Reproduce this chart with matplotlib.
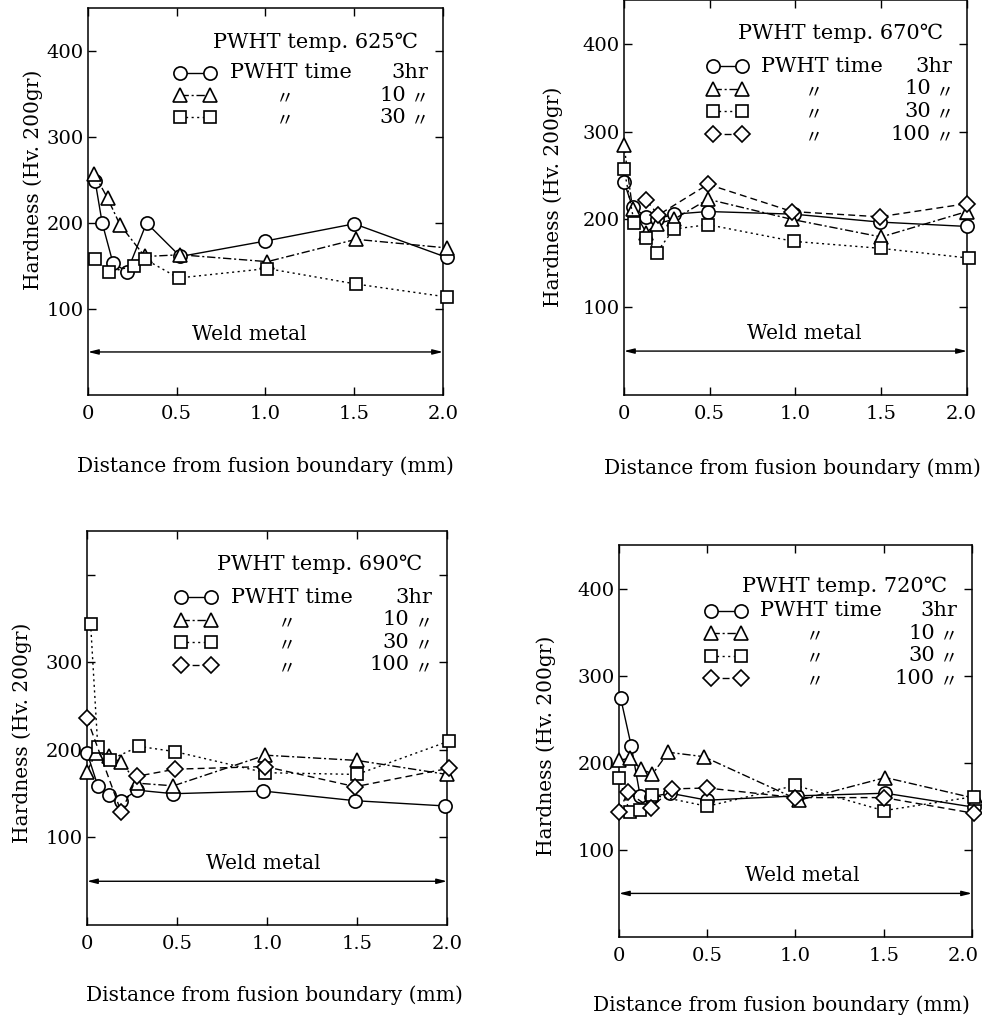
import matplotlib
matplotlib.use('Agg')

import matplotlib.pyplot as plt
from matplotlib.transforms import ScaledTranslation

plt.rcParams['font.family'] = ['DejaVu Serif', 'Noto Sans CJK JP', 'DejaVu Sans']

# --- data (distance mm, hardness Hv) ---
temps = ["625", "670", "690", "720"]
times = ["3", "10", "30", "100"]

x_625_3h = [0.04, 0.08, 0.14, 0.22, 0.33, 0.52, 1.0, 1.5, 2.02]
hv_625_3h = [249, 200, 154, 143, 200, 161, 179, 199, 160]
x_625_10h = [0.035, 0.11, 0.18, 0.32, 0.52, 1.01, 1.51, 2.02]
hv_625_10h = [257, 229, 198, 161, 163, 155, 181, 171]
x_625_30h = [0.04, 0.12, 0.26, 0.32, 0.51, 1.01, 1.51, 2.02]
hv_625_30h = [158, 143, 150, 158, 136, 147, 129, 114]

x_670_3h = [0.0, 0.05, 0.13, 0.19, 0.29, 0.49, 0.99, 1.49, 2.0]
hv_670_3h = [243, 214, 203, 200, 206, 209, 206, 197, 192]
x_670_10h = [0.0, 0.05, 0.13, 0.19, 0.29, 0.49, 0.98, 1.5, 2.0]
hv_670_10h = [285, 212, 185, 195, 200, 223, 200, 180, 209]
x_670_30h = [0.0, 0.06, 0.13, 0.19, 0.29, 0.49, 0.99, 1.5, 2.01]
hv_670_30h = [258, 196, 179, 162, 189, 194, 175, 167, 156]
x_670_100h = [0.13, 0.2, 0.49, 0.98, 1.49, 2.0]
hv_670_100h = [222, 205, 240, 209, 203, 218]

x_690_3h = [0.0, 0.06, 0.12, 0.19, 0.28, 0.48, 0.98, 1.49, 1.99]
hv_690_3h = [197, 159, 148, 142, 154, 150, 153, 142, 136]
x_690_10h = [0.0, 0.05, 0.12, 0.19, 0.28, 0.48, 0.99, 1.5, 2.0]
hv_690_10h = [175, 197, 193, 186, 162, 159, 194, 188, 172]
x_690_30h = [0.02, 0.06, 0.13, 0.29, 0.49, 0.99, 1.5, 2.01]
hv_690_30h = [344, 203, 189, 204, 198, 174, 172, 210]
x_690_100h = [0.0, 0.19, 0.28, 0.49, 0.99, 1.49, 2.01]
hv_690_100h = [236, 129, 170, 178, 181, 158, 179]

x_720_3h = [0.01, 0.07, 0.12, 0.18, 0.29, 0.5, 1.01, 1.51, 2.01]
hv_720_3h = [274, 219, 162, 161, 165, 157, 162, 165, 149]
x_720_10h = [0.0, 0.06, 0.125, 0.19, 0.28, 0.48, 1.02, 1.51, 2.02]
hv_720_10h = [203, 205, 193, 187, 212, 207, 157, 183, 159]
x_720_30h = [0.0, 0.06, 0.12, 0.19, 0.5, 1.0, 1.5, 2.01]
hv_720_30h = [183, 144, 146, 163, 150, 174, 145, 161]
x_720_100h = [0.0, 0.05, 0.18, 0.3, 0.5, 1.0, 1.5, 2.01]
hv_720_100h = [144, 166, 148, 170, 171, 160, 160, 142]

series = {
    "625": {"3": (x_625_3h, hv_625_3h), "10": (x_625_10h, hv_625_10h),
            "30": (x_625_30h, hv_625_30h)},
    "670": {"3": (x_670_3h, hv_670_3h), "10": (x_670_10h, hv_670_10h),
            "30": (x_670_30h, hv_670_30h), "100": (x_670_100h, hv_670_100h)},
    "690": {"3": (x_690_3h, hv_690_3h), "10": (x_690_10h, hv_690_10h),
            "30": (x_690_30h, hv_690_30h), "100": (x_690_100h, hv_690_100h)},
    "720": {"3": (x_720_3h, hv_720_3h), "10": (x_720_10h, hv_720_10h),
            "30": (x_720_30h, hv_720_30h), "100": (x_720_100h, hv_720_100h)},
}

xticks = [0, 0.5, 1.0, 1.5, 2.0]
xtick_labels = ["0", "0.5", "1.0", "1.5", "2.0"]
yticks = [100, 200, 300, 400]
ytick_labels = {
    "625": ["100", "200", "300", "400"],
    "670": ["100", "200", "300", "400"],
    "690": ["100", "200", "300", ""],
    "720": ["100", "200", "300", "400"],
}
weld_y = 50
weld_text_x = {"625": 0.91, "670": 1.05, "690": 0.98, "720": 1.04}

# axes boxes in figure fractions
boxes = {
    "625": [0.0896, 0.6124, 0.3615, 0.3798],
    "670": [0.6354, 0.6124, 0.3493, 0.3876],
    "690": [0.0886, 0.0922, 0.3666, 0.3867],
    "720": [0.6303, 0.0805, 0.3595, 0.3847],
}
xlabel_y = {"625": -0.185, "670": -0.185, "690": -0.179, "720": -0.175}
xlabel_x = {"625": 0.50, "670": 0.49, "690": 0.52, "720": 0.46}
ylabel_x = {"625": -0.155, "670": -0.207, "690": -0.18, "720": -0.207}
ylabel_y = {"625": 0.555, "670": 0.502, "690": 0.487, "720": 0.487}
title_y = {"625": 0.91, "670": 0.916, "690": 0.916, "720": 0.895}
last_label_shift = {"625": 0, "670": -6, "690": 0, "720": -9}

styles = {
    "3": dict(marker='o', ls='-', ms=9.5),
    "10": dict(marker='^', ls=(0, (6, 2, 1.5, 2)), ms=10),
    "30": dict(marker='s', ls=(0, (1.5, 2.5)), ms=8.5),
    "100": dict(marker='D', ls=(0, (5, 3)), ms=8),
}


def draw_panel(fig, ax, temp):
    for t in times:
        if t not in series[temp]:
            continue
        xs, ys = series[temp][t]
        st = styles[t]
        ax.plot(xs, ys, color='black', lw=1.0, ls=st['ls'], marker=st['marker'],
                ms=st['ms'], mfc='white', mec='black', mew=1.2, clip_on=False,
                zorder=3)

    ax.set_xlim(0, 2.0)
    ax.set_ylim(0, 450)
    ax.set_xticks(xticks)
    ax.set_xticklabels(xtick_labels, fontsize=14)
    ax.set_yticks(yticks)
    ax.set_yticklabels(ytick_labels[temp], fontsize=14)
    ax.tick_params(direction='in', top=True, right=True, length=6, width=1.0)
    ax.tick_params(axis='y', pad=3)
    ax.tick_params(axis='x', pad=7)
    for sp in ax.spines.values():
        sp.set_linewidth(1.1)

    # keep the "2.0" label inside the page like the scan
    shift = last_label_shift[temp]
    if shift:
        lbl = ax.get_xticklabels()[-1]
        lbl.set_transform(lbl.get_transform() +
                          ScaledTranslation(shift / 100, 0, fig.dpi_scale_trans))

    ax.set_xlabel("Distance from fusion boundary (mm)", fontsize=14.5)
    ax.xaxis.set_label_coords(xlabel_x[temp], xlabel_y[temp])
    ax.xaxis.label.set_va('center')
    ax.set_ylabel("Hardness (Hv. 200gr)", fontsize=14.5)
    ax.yaxis.set_label_coords(ylabel_x[temp], ylabel_y[temp])
    ax.yaxis.label.set_va('center')

    # weld metal span
    ax.annotate('', xy=(0, weld_y), xytext=(2.0, weld_y),
                arrowprops=dict(arrowstyle='<|-|>,head_length=0.6,head_width=0.15',
                                lw=1.0, color='black', shrinkA=0, shrinkB=0))
    ax.text(weld_text_x[temp], weld_y + 20, "Weld metal", ha='center',
            va='center', fontsize=14.5)

    # hand-made legend block
    ax.text(0.93, title_y[temp], f"PWHT temp. {temp}\u2103", transform=ax.transAxes,
            ha='right', va='center', fontsize=15)
    row_y = [0.832, 0.775, 0.718, 0.66]
    for i, t in enumerate(times):
        if t not in series[temp]:
            continue
        st = styles[t]
        y = row_y[i]
        ax.plot([0.26, 0.345], [y, y], transform=ax.transAxes, color='black',
                lw=1.0, ls=st['ls'], marker=st['marker'], ms=st['ms'],
                mfc='white', mec='black', mew=1.2, clip_on=False)
        if i == 0:
            ax.text(0.40, y, "PWHT time", transform=ax.transAxes, ha='left',
                    va='center', fontsize=15)
            ax.text(0.958, y, "3hr", transform=ax.transAxes, ha='right',
                    va='center', fontsize=15)
        else:
            ax.text(0.555, y - 0.008, "\u3003", transform=ax.transAxes,
                    ha='center', va='center', fontsize=13)
            ax.text(0.895, y, t, transform=ax.transAxes, ha='right',
                    va='center', fontsize=15)
            ax.text(0.935, y - 0.008, "\u3003", transform=ax.transAxes,
                    ha='center', va='center', fontsize=13)


def main():
    fig = plt.figure(figsize=(9.82, 10.19), dpi=100)
    for temp in temps:
        ax = fig.add_axes(boxes[temp])
        draw_panel(fig, ax, temp)
    fig.savefig("out.png", dpi=100)
    plt.close(fig)


if __name__ == "__main__":
    main()
